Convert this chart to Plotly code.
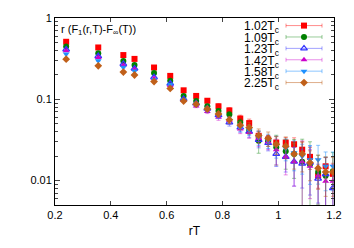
import plotly.graph_objects as go

rT = [0.24, 0.355, 0.445, 0.485, 0.555, 0.613, 0.661, 0.706, 0.746, 0.786, 0.825, 0.864,
      0.896, 0.930, 0.964, 0.993, 1.027, 1.057, 1.086, 1.114, 1.143, 1.170, 1.196]

names = ["1.02T<sub>c</sub>", "1.09T<sub>c</sub>", "1.23T<sub>c</sub>",
         "1.42T<sub>c</sub>", "1.58T<sub>c</sub>", "2.25T<sub>c</sub>"]

y_102 = [0.51, 0.434, 0.35, 0.314, 0.246, 0.194, 0.129, 0.110, 0.096, 0.082, 0.073, 0.058,
         0.051, 0.0355, 0.032, 0.0294, 0.0294, 0.028, 0.024, 0.0196, 0.0115, 0.015, 0.0121]
y_109 = [0.446, 0.369, 0.295, 0.265, 0.21, 0.169, 0.110, 0.095, 0.082, 0.072, 0.065, 0.052,
         0.042, 0.031, 0.031, 0.0258, 0.023, 0.0213, 0.017, 0.0158, 0.0128, 0.0115, 0.013]
y_123 = [0.41, 0.34, 0.272, 0.24, 0.187, 0.156, 0.101, 0.089, 0.077, 0.064, 0.052, 0.045,
         0.040, 0.0316, 0.029, 0.0213, 0.0196, 0.0171, 0.0162, 0.0166, 0.0106, 0.012, 0.0081]
y_142 = [0.395, 0.326, 0.26, 0.233, 0.18, 0.148, 0.097, 0.083, 0.071, 0.060, 0.055, 0.043,
         0.039, 0.033, 0.030, 0.024, 0.0196, 0.0171, 0.0171, 0.015, 0.0115, 0.0098, 0.0098]
y_158 = [0.36, 0.298, 0.248, 0.223, 0.174, 0.151, 0.098, 0.086, 0.074, 0.063, 0.055, 0.045,
         0.042, 0.034, 0.031, 0.027, 0.025, 0.022, 0.020, 0.018, 0.0181, 0.0150, 0.0150]
y_225 = [0.312, 0.258, 0.216, 0.199, 0.165, 0.136, 0.095, 0.087, 0.076, 0.066, 0.056, 0.048,
         0.045, 0.036, 0.033, 0.028, 0.0265, 0.0213, 0.0213, 0.0166, 0.0142, 0.0128, 0.0128]

# relative errors
e_102 = [0.02, 0.02, 0.02, 0.02, 0.03, 0.03, 0.04, 0.05, 0.06, 0.08, 0.08, 0.10,
         0.12, 0.15, 0.12, 0.18, 0.15, 0.2, 0.25, 0.3, 0.3, 0.3, 0.35]
e_109 = [0.02, 0.02, 0.02, 0.02, 0.03, 0.03, 0.04, 0.05, 0.06, 0.07, 0.08, 0.10,
         0.12, 0.3, 0.15, 0.4, 0.4, 0.5, 0.9, 0.9, 0.6, 0.7, 0.7]
e_123 = [0.02, 0.02, 0.02, 0.02, 0.03, 0.03, 0.04, 0.05, 0.06, 0.08, 0.1, 0.12,
         0.15, 0.2, 0.2, 0.3, 0.35, 0.5, 0.5, 0.6, 0.5, 0.6, 0.6]
e_142 = [0.02, 0.02, 0.02, 0.02, 0.03, 0.03, 0.04, 0.05, 0.06, 0.08, 0.1, 0.12,
         0.15, 0.2, 0.2, 0.35, 0.4, 0.5, 0.8, 0.6, 0.6, 0.6, 0.6]
e_158 = [0.02, 0.02, 0.02, 0.02, 0.03, 0.03, 0.04, 0.05, 0.06, 0.08, 0.1, 0.12,
         0.15, 0.2, 0.2, 0.3, 0.3, 0.4, 0.4, 0.5, 0.5, 0.5, 0.5]
e_225 = [0.02, 0.02, 0.02, 0.02, 0.03, 0.03, 0.04, 0.05, 0.06, 0.08, 0.1, 0.12,
         0.15, 0.2, 0.2, 0.25, 0.3, 0.35, 0.4, 0.4, 0.45, 0.5, 0.5]

series = [y_102, y_109, y_123, y_142, y_158, y_225]
errors = [e_102, e_109, e_123, e_142, e_158, e_225]
colors = ["#ff0000", "#008000", "#3333ff", "#cc00cc", "#1e90ff", "#c0601a"]
light = ["rgba(255,0,0,0.45)", "rgba(0,128,0,0.4)", "rgba(51,51,255,0.45)",
         "rgba(204,0,204,0.45)", "rgba(30,144,255,0.5)", "rgba(192,96,26,0.5)"]
symbols = ["square", "circle", "triangle-up-open", "triangle-up", "triangle-down", "diamond"]
sizes = [6, 6, 6, 6, 6, 6]

W, H = 354, 248
ML, MR, MT, MB = 55, 20, 15, 36

fig = go.Figure()
for name, ys, es, c, lc, sym, sz in zip(names, series, errors, colors, light, symbols, sizes):
    err = [y * e for y, e in zip(ys, es)]
    fig.add_trace(go.Scatter(
        x=rT, y=ys, name=name, mode="markers", showlegend=False,
        marker=dict(symbol=sym, size=sz, color=c,
                    line=dict(color=c, width=1.2 if "open" in sym else 0)),
        error_y=dict(type="data", array=err, color=lc, thickness=1, width=2),
    ))

# key (legend) drawn gnuplot-style: label on the left, horizontal error-bar sample on the right,
# on an overlay axis measured in page pixels
key_x, key_half, key_top, key_step, key_text_right = 304, 18, 23, 12, 281
for i, (name, c, lc, sym, sz) in enumerate(zip(names, colors, light, symbols, sizes)):
    ky = key_top + key_step * i
    fig.add_trace(go.Scatter(
        x=[key_x], y=[ky], mode="markers", showlegend=False, hoverinfo="skip",
        xaxis="x2", yaxis="y2",
        marker=dict(symbol=sym, size=sz, color=c,
                    line=dict(color=c, width=1.2 if "open" in sym else 0)),
        error_x=dict(type="constant", value=key_half, color=lc, thickness=1, width=2),
    ))
    fig.add_annotation(text=name, x=key_text_right, y=ky + 2, xref="x2", yref="y2",
                       xanchor="right", yanchor="middle", showarrow=False,
                       font=dict(size=12))

minor_vals = [m * 10 ** k for k in (-3, -2, -1) for m in range(2, 10)]

fig.update_layout(
    width=W, height=H,
    margin=dict(l=ML, r=MR, t=MT, b=MB),
    paper_bgcolor="white", plot_bgcolor="white",
    font=dict(family="Liberation Sans, Arial, sans-serif", size=12, color="black"),
    showlegend=False,
    xaxis=dict(range=[0.2, 1.2], tick0=0.2, dtick=0.2, ticks="inside", ticklen=4,
               showline=True, linecolor="black", linewidth=1, mirror="ticks",
               showgrid=False, zeroline=False, tickfont=dict(size=11),
               title=dict(text="rT", standoff=6, font=dict(size=12))),
    yaxis=dict(type="log", range=[-2.3, 0], tickvals=[0.01, 0.1, 1],
               ticktext=["0.01", "0.1", "1"], ticks="inside", ticklen=5,
               showline=True, linecolor="black", linewidth=1, mirror="ticks",
               showgrid=False, zeroline=False, tickfont=dict(size=11),
               minor=dict(tickvals=minor_vals, ticks="inside", ticklen=3,
                          showgrid=False)),
    xaxis2=dict(overlaying="x", range=[ML, W - MR], visible=False, fixedrange=True),
    yaxis2=dict(overlaying="y", range=[H - MB, MT], visible=False, fixedrange=True),
)
fig.add_annotation(text="r (F<sub>1</sub>(r,T)-F<sub>∞</sub>(T))",
                   xref="paper", yref="paper", x=0.015, y=0.985,
                   xanchor="left", yanchor="top", showarrow=False,
                   font=dict(size=11))

fig.write_html("out.html", config={"displayModeBar": False},
               post_script="document.body.style.margin='0';")
